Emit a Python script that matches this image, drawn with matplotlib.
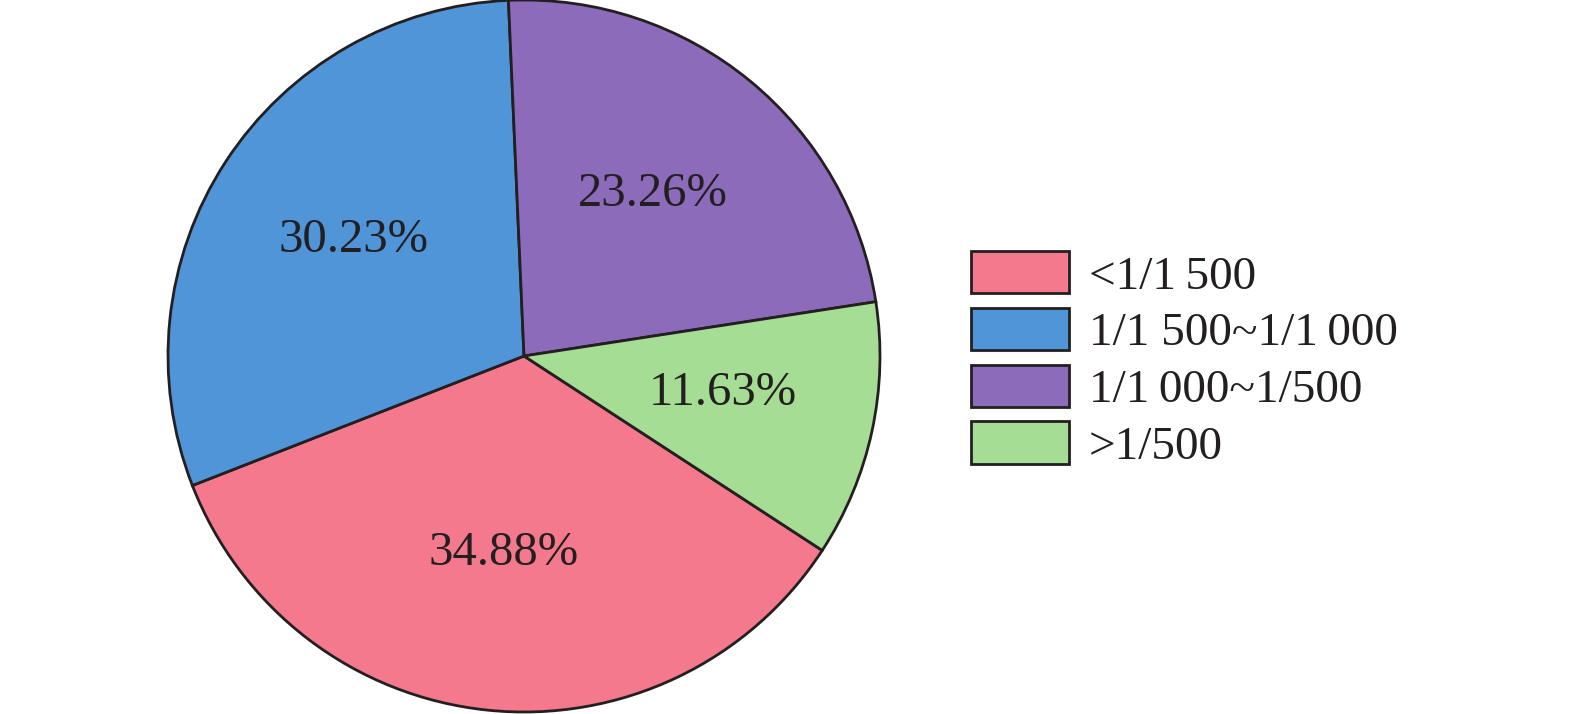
import matplotlib.pyplot as plt

labels = ["<1/1\u2009500", "1/1 500~1/1\u2009000", "1/1\u2009000~1/500", ">1/500"]
shares = [34.88, 30.23, 23.26, 11.63]
colors = ["#F4798D", "#4F95D8", "#8C6BBA", "#A6DD94"]

plt.rcParams['font.family'] = ['Liberation Serif', 'DejaVu Serif']

fig = plt.figure(figsize=(15.75, 7.14), dpi=100)
W, H = 1575, 714
cx, cy, r = 524, 356, 356
ax = fig.add_axes([(cx - r) / W, (H - cy - r) / H, 2 * r / W, 2 * r / H])

wedges, texts, autotexts = ax.pie(
    shares, colors=colors, startangle=-33.1, counterclock=False,
    autopct='%.2f%%', pctdistance=0.57,
    wedgeprops=dict(edgecolor='#231f20', linewidth=2, clip_on=False),
    textprops=dict(fontsize=35, color='#231f20'))
ax.set_xlim(-1.0, 1.0)
ax.set_ylim(-1.0, 1.0)
ax.set_aspect('equal')
# nudge the percentage labels up a touch, as in the original
for t in autotexts:
    t.set_y(t.get_position()[1] + 0.015)

leg = fig.legend(wedges, labels, loc='center left',
                 bbox_to_anchor=(971 / W, 1 - 360 / H),
                 frameon=False, fontsize=34,
                 handlelength=2.07, handleheight=1.0,
                 handletextpad=0.42, labelspacing=0.2,
                 borderpad=0, borderaxespad=0)
for t in leg.get_texts():
    t.set_color('#231f20')

fig.savefig('out.png', dpi=100)
